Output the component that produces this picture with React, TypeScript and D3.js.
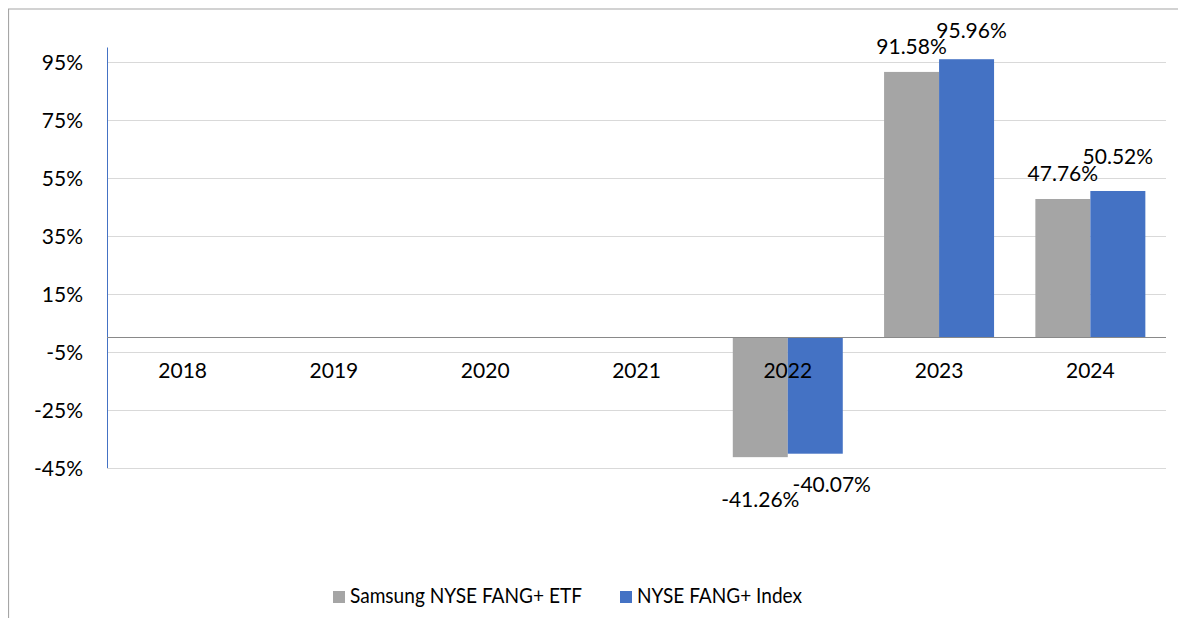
import React from "react";
import * as d3 from "d3";

const categories = ["2018", "2019", "2020", "2021", "2022", "2023", "2024"];
const seriesNames = ["Samsung NYSE FANG+ ETF", "NYSE FANG+ Index"];
const etfValues: (number | null)[] = [null, null, null, null, -41.26, 91.58, 47.76];
const indexValues: (number | null)[] = [null, null, null, null, -40.07, 95.96, 50.52];
const yTicks = [-45, -25, -5, 15, 35, 55, 75, 95];

// layout-only: manual nudges of the data labels (dx, dy from bar end) per series per category
const labelNudge: Record<string, [number, number][]> = {
  etf: [[0, 0], [0, 0], [0, 0], [0, 0], [0, 50], [0, -17.5], [0, -18]],
  index: [[0, 0], [0, 0], [0, 0], [0, 0], [16.5, 38.5], [5, -21], [0, -27]],
};

const COLORS = ["#A5A5A5", "#4472C4"];
const FONT = "Lato, 'Open Sans', sans-serif";

export default function App() {
  const W = 1186, H = 626;
  const left = 107, right = 1166, top = 47.5, bottom = 468;
  const x = d3.scaleBand<string>().domain(categories).range([left, right]).paddingInner(0).paddingOuter(0);
  const y = d3.scaleLinear().domain([-45, 100]).range([bottom, top]);
  const group = x.bandwidth() * 0.727;
  const barW = group / 2;
  const series = [
    { key: "etf", name: seriesNames[0], values: etfValues, color: COLORS[0] },
    { key: "index", name: seriesNames[1], values: indexValues, color: COLORS[1] },
  ];
  const fs = 21;
  const legendLayout = [
    { x: 333, textLen: 232 },
    { x: 620, textLen: 165 },
  ];

  return (
    <svg width={1170} height={610} style={{ display: "block" }} fontFamily={FONT}>
      <g transform="translate(-8,-8)">
        <rect x={0} y={0} width={W} height={H} fill="#fff" />
        <line x1={8.5} y1={9} x2={8.5} y2={H} stroke="#A6A6A6" strokeWidth={1.2} />
        <line x1={8} y1={9} x2={W} y2={9} stroke="#A6A6A6" strokeWidth={1.2} />
        {yTicks.map((t) => (
          <g key={t}>
            <line x1={left} x2={right} y1={Math.round(y(t)) + 0.5} y2={Math.round(y(t)) + 0.5} stroke="#D9D9D9" strokeWidth={1} />
            <text x={83} y={y(t) + 8} textAnchor="end" fontSize={fs} fill="#000">{t}%</text>
          </g>
        ))}
        <line x1={left + 0.5} x2={left + 0.5} y1={top} y2={bottom} stroke="#4472C4" strokeWidth={1} />
        {series.map((s, si) =>
          s.values.map((v, i) => {
            if (v == null) return null;
            const cx = (x(categories[i]) as number) + x.bandwidth() / 2;
            const bx = cx - group / 2 + si * barW;
            const y0 = y(0), y1 = y(v);
            return (
              <rect key={s.key + i} x={bx} y={Math.min(y0, y1)} width={barW} height={Math.abs(y1 - y0)} fill={s.color} />
            );
          })
        )}
        <line x1={left} x2={right} y1={y(0)} y2={y(0)} stroke="#898989" strokeWidth={1} />
        {categories.map((c) => (
          <text key={c} x={(x(c) as number) + x.bandwidth() / 2} y={378} textAnchor="middle" fontSize={fs} fill="#000">{c}</text>
        ))}
        {series.map((s, si) =>
          s.values.map((v, i) => {
            if (v == null) return null;
            const cx = (x(categories[i]) as number) + x.bandwidth() / 2;
            const bcx = cx - group / 2 + si * barW + barW / 2;
            const [dx, dy] = labelNudge[s.key][i];
            return (
              <text key={"l" + s.key + i} x={bcx + dx} y={y(v) + dy} textAnchor="middle" fontSize={fs} fill="#000">
                {v.toFixed(2)}%
              </text>
            );
          })
        )}
        {series.map((s, si) => {
          const lx = legendLayout[si].x;
          return (
            <g key={"lg" + s.key}>
              <rect x={lx} y={591} width={12} height={12} fill={s.color} />
              <text x={lx + 17} y={603} fontSize={fs} fill="#000" textLength={legendLayout[si].textLen} lengthAdjust="spacingAndGlyphs">{s.name}</text>
            </g>
          );
        })}
      </g>
    </svg>
  );
}
